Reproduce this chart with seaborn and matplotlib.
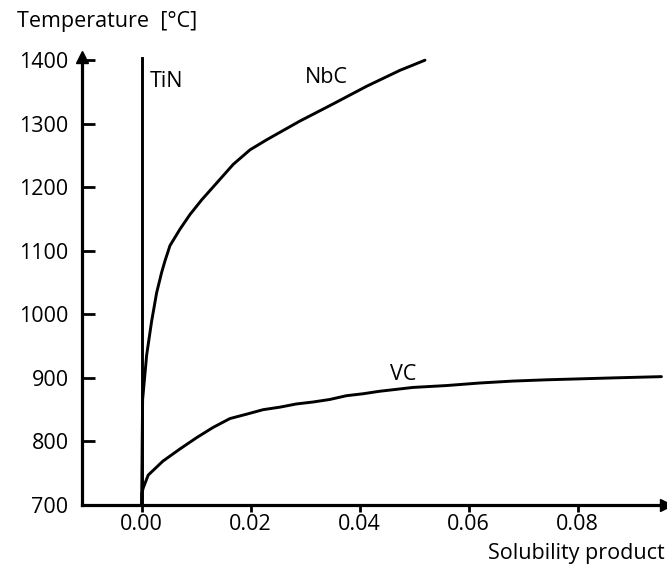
import numpy as np
import pandas as pd
import matplotlib
matplotlib.use("Agg")
import matplotlib.pyplot as plt
import seaborn as sns

# ---- data ----
tin_x = [0.0, 0.0]
tin_y = [700, 1405]

nbc_x = [0.0, 0.0001, 0.00018, 0.00092, 0.00183, 0.00275, 0.00367, 0.00428,
         0.00519, 0.00703, 0.00886, 0.0110, 0.0138, 0.0168, 0.0199, 0.0230,
         0.0290, 0.0351, 0.0413, 0.0474, 0.0520]
nbc_y = [700, 800, 866, 936, 989, 1034, 1066, 1084,
         1108, 1134, 1157, 1180, 1207, 1236, 1259, 1275,
         1304, 1331, 1359, 1384, 1400]

vc_x = [0.0, 0.00002, 0.0003, 0.0012, 0.0039, 0.0070, 0.0101, 0.0131, 0.0162,
        0.0193, 0.0223, 0.0254, 0.0284, 0.0314, 0.0345, 0.0376, 0.0406, 0.0437,
        0.0498, 0.0560, 0.0621, 0.0681, 0.0743, 0.0804, 0.0865, 0.0954]
vc_y = [700, 718, 727, 747, 769, 788, 806, 822, 836,
        843, 850, 854, 859, 862, 866, 872, 875, 879,
        885, 888, 892, 895, 897, 898.5, 900, 902]

x_ticks = [0.00, 0.02, 0.04, 0.06, 0.08]
x_tick_labels = ["0.00", "0.02", "0.04", "0.06", "0.08"]
y_ticks = [700, 800, 900, 1000, 1100, 1200, 1300, 1400]
y_tick_labels = ["700", "800", "900", "1000", "1100", "1200", "1300", "1400"]

labels = {"TiN": (0.0015, 1367), "NbC": (0.0300, 1372), "VC": (0.0456, 905)}

df = pd.concat([
    pd.DataFrame({"x": tin_x, "y": tin_y, "series": "TiN"}),
    pd.DataFrame({"x": nbc_x, "y": nbc_y, "series": "NbC"}),
    pd.DataFrame({"x": vc_x, "y": vc_y, "series": "VC"}),
], ignore_index=True)

sns.set_style("white")
plt.rcParams["font.family"] = ["Open Sans", "DejaVu Sans"]

FS = 15.5

fig = plt.figure(figsize=(6.67, 5.69), dpi=100)
ax = fig.add_axes([0.1225, 0.1125, 0.8757, 0.7873])

sns.lineplot(data=df, x="x", y="y", hue="series",
             palette={"TiN": "black", "NbC": "black", "VC": "black"},
             sort=False, estimator=None, legend=False, linewidth=2.1, ax=ax)

ax.set_xlim(-0.011, 0.0962)
ax.set_ylim(700, 1405)
ax.set_xticks(x_ticks)
ax.set_xticklabels(x_tick_labels)
ax.set_yticks(y_ticks)
ax.set_yticklabels(y_tick_labels)
ax.set_xlabel("")
ax.set_ylabel("")

for s in ["top", "right"]:
    ax.spines[s].set_visible(False)
for s in ["left", "bottom"]:
    ax.spines[s].set_linewidth(2.3)
    ax.spines[s].set_color("black")

ax.tick_params(axis="y", direction="in", length=9.5, width=2.0, pad=9.5,
               labelsize=FS, colors="black", left=True)
ax.tick_params(axis="x", direction="out", length=5, width=2.0, pad=1.5,
               labelsize=FS, colors="black", bottom=True)

# arrowheads
ax.plot(0, 1, marker="^", ms=9, color="black", transform=ax.transAxes, clip_on=False)
ax.plot(1, 0, marker=">", ms=9, color="black", transform=ax.transAxes, clip_on=False)

for name, (lx, ly) in labels.items():
    ax.text(lx, ly, name, fontsize=FS, ha="left", va="center", color="black")

fig.text(17 / 667, 1 - 22 / 569, "Temperature  [°C]", fontsize=FS,
         ha="left", va="center", color="black")
fig.text(665 / 667, 1 - 553 / 569, "Solubility product", fontsize=FS,
         ha="right", va="center", color="black")

fig.savefig("out.png", dpi=100)
